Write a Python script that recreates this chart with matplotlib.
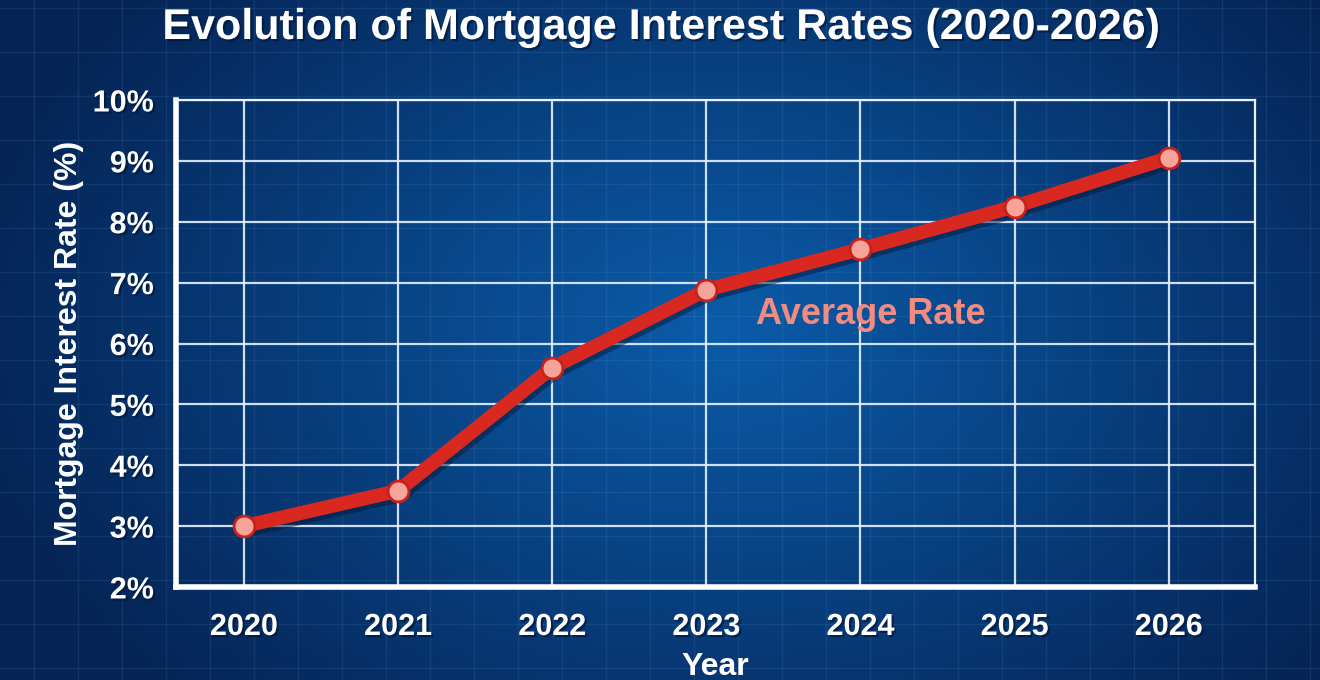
import numpy as np
import matplotlib.pyplot as plt
import matplotlib.patheffects as pe

years = [2020, 2021, 2022, 2023, 2024, 2025, 2026]
rates = [3.0, 3.58, 5.6, 6.88, 7.55, 8.25, 9.05]
y_ticks = [2, 3, 4, 5, 6, 7, 8, 9, 10]
y_labels = ['2%', '3%', '4%', '5%', '6%', '7%', '8%', '9%', '10%']

plt.rcParams['font.family'] = ['Liberation Sans', 'DejaVu Sans']

W, H = 1320, 680
fig = plt.figure(figsize=(W / 100, H / 100), dpi=100)

# background: radial blue gradient with a faint blueprint grid
bg = fig.add_axes([0, 0, 1, 1])
yy, xx = np.mgrid[0:H, 0:W]
d = np.sqrt(((xx - 720) / 760) ** 2 + ((yy - 330) / 520) ** 2)
t = np.clip(d, 0, 1)[..., None]
inner = np.array([0x0b, 0x5c, 0xaa]) / 255
outer = np.array([0x05, 0x24, 0x55]) / 255
img = inner * (1 - t) + outer * t
bg.imshow(img, extent=[0, W, H, 0], aspect='auto')
for gx in np.arange(-10, W, 44):
    bg.axvline(gx, color='#6fa8e0', alpha=0.12, lw=1)
for gy in np.arange(8, H, 44):
    bg.axhline(gy, color='#6fa8e0', alpha=0.12, lw=1)
bg.set_xlim(0, W)
bg.set_ylim(H, 0)
bg.axis('off')

ax = fig.add_axes([176 / W, 1 - 587 / H, (1255 - 176) / W, (587 - 100) / H])
ax.patch.set_alpha(0)
ax.set_xlim(2019.56, 2026.56)
ax.set_ylim(2, 10)

ax.set_xticks(years)
ax.set_yticks(y_ticks)
ax.set_yticklabels(y_labels)
ax.grid(True, color='#e6f2ff', lw=1.6, alpha=0.9)
ax.set_axisbelow(True)

line_shadow = [pe.SimpleLineShadow(offset=(2, -3), shadow_color='#031a3a', alpha=0.5),
               pe.Normal()]
txt_shadow = [pe.withSimplePatchShadow(offset=(1.5, -1.5), shadow_rgbFace='#021230', alpha=0.6)]

ax.plot(years, rates, color='#d9281f', lw=10, solid_capstyle='round',
        path_effects=line_shadow, zorder=5)
ax.plot(years, rates, ls='none', marker='o', markersize=15, markerfacecolor='#f6a39a',
        markeredgecolor='#c8201a', markeredgewidth=2, zorder=6)

ax.text(2024.07, 6.48, 'Average Rate', color='#f28b80', fontsize=26,
        fontweight='bold', ha='center', va='center', zorder=6)

for side in ['left', 'bottom']:
    ax.spines[side].set_color('white')
    ax.spines[side].set_linewidth(4)
for side in ['top', 'right']:
    ax.spines[side].set_color('#e6f2ff')
    ax.spines[side].set_linewidth(1.6)

ax.tick_params(length=0, colors='white', labelsize=22)
ax.tick_params(axis='x', pad=18)
ax.tick_params(axis='y', pad=16)
for lab in ax.get_xticklabels() + ax.get_yticklabels():
    lab.set_fontweight('bold')
    lab.set_path_effects(txt_shadow)

ax.set_xlabel('Year', color='white', fontsize=23, fontweight='bold', labelpad=7)
ax.set_ylabel('Mortgage Interest Rate (%)', color='white', fontsize=23,
              fontweight='bold', labelpad=6)

fig.text(660 / W, 1 - 28 / H, 'Evolution of Mortgage Interest Rates (2020-2026)',
         color='white', fontsize=31, fontweight='bold', ha='center', va='center',
         path_effects=txt_shadow)

fig.savefig('out.png', dpi=100)
